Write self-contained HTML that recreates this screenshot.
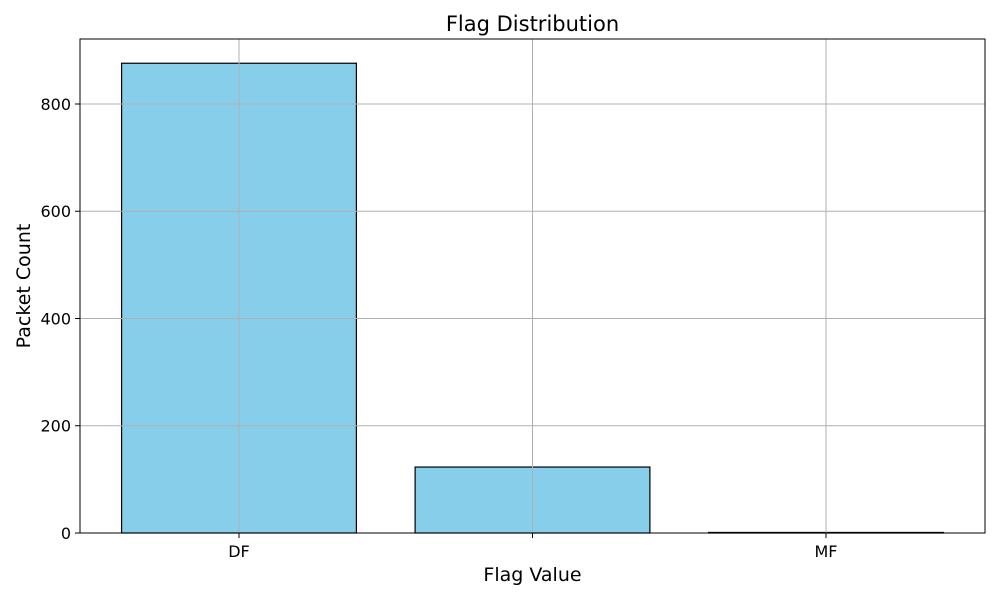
<!DOCTYPE html>
<html><head><meta charset="utf-8"><style>
body{margin:0;background:#fff;}
svg{display:block;font-family:"DejaVu Sans","Liberation Sans",sans-serif;}
</style></head><body>
<svg id="chart" width="1000" height="600"></svg>
<script>
const categories = ["DF", "", "MF"];
const values = [876, 123, 1];
const yTicks = [0, 200, 400, 600, 800];

const NS = "http://www.w3.org/2000/svg";
const svg = document.getElementById("chart");
const L = 80, R = 985, T = 39, B = 533;
const xMin = -0.5417, xMax = 2.5417, yMax = 921.2;
const xs = v => L + (v - xMin) / (xMax - xMin) * (R - L);
const ys = v => B - v / yMax * (B - T);
function mk(tag, attrs, parent) {
  const e = document.createElementNS(NS, tag);
  for (const k in attrs) e.setAttribute(k, attrs[k]);
  (parent || svg).appendChild(e);
  return e;
}
const bw = 0.8 * (xs(1) - xs(0));
categories.forEach((c, i) => {
  const y = ys(values[i]);
  const r = mk("rect", {x: xs(i) - bw / 2, y: y, width: bw, height: B - y, fill: "#87ceeb", stroke: "#000", "stroke-width": 1.2});
  
  
});
categories.forEach((c, i) => {
  const g = mk("line", {x1: xs(i), x2: xs(i), y1: T, y2: B, stroke: "#b0b0b0", "stroke-width": 1});
  
  
  const t = mk("line", {x1: xs(i), x2: xs(i), y1: B, y2: B + 5, stroke: "#000", "stroke-width": 1});
  
  
  const tx = mk("text", {x: xs(i), y: B + 24, "text-anchor": "middle", "font-size": 16});
  tx.textContent = c;
  
  
});
yTicks.forEach(v => {
  const g = mk("line", {x1: L, x2: R, y1: ys(v), y2: ys(v), stroke: "#b0b0b0", "stroke-width": 1});
  
  
  const t = mk("line", {x1: L - 5, x2: L, y1: ys(v), y2: ys(v), stroke: "#000", "stroke-width": 1});
  
  
  const tx = mk("text", {x: L - 9, y: ys(v) + 6, "text-anchor": "end", "font-size": 16});
  tx.textContent = v;
  
  
});
const frame = mk("rect", {x: L, y: T, width: R - L, height: B - T, fill: "none", stroke: "#000", "stroke-width": 1});


const title = mk("text", {x: (L + R) / 2, y: 31, "text-anchor": "middle", "font-size": 21});
title.textContent = "Flag Distribution";


const xl = mk("text", {x: (L + R) / 2, y: 581, "text-anchor": "middle", "font-size": 19});
xl.textContent = "Flag Value";


const yl = mk("text", {x: 30, y: (T + B) / 2, "text-anchor": "middle", "font-size": 19, transform: "rotate(-90 30 " + (T + B) / 2 + ")"});
yl.textContent = "Packet Count";


</script>
</body></html>
